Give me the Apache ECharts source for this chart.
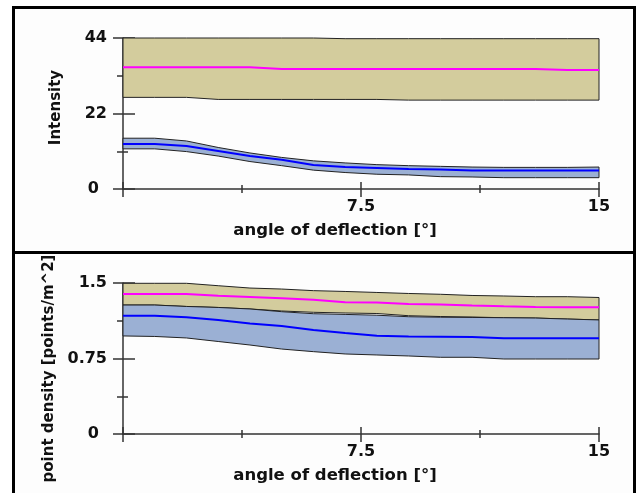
<!DOCTYPE html>
<html>
<head>
<meta charset="utf-8">
<script src="https://cdn.jsdelivr.net/npm/echarts@6/dist/echarts.min.js"></script>
<style>
html,body{margin:0;padding:0;background:#ffffff;}
#chart{width:638px;height:493px;}
</style>
</head>
<body>
<div id="chart"></div>
<script>
// ---- data ----
const angles = [0,1,2,3,4,5,6,7,8,9,10,11,12,13,14,15];

// top panel: Intensity
const intensityTanHigh = [44,44,44,44,44,44,44,43.8,43.8,43.8,43.8,43.8,43.8,43.8,43.8,43.8];
const intensityMagenta = [35.5,35.5,35.5,35.5,35.5,35.0,35.0,35.0,35.0,35.0,35.0,35.0,35.0,35.0,34.7,34.7];
const intensityTanLow  = [26.7,26.7,26.7,26.1,26.1,26.1,26.1,26.1,26.1,25.9,25.9,25.9,25.9,25.9,25.9,25.9];
const intensityBlueHigh = [14.8,14.8,14.0,12.1,10.5,9.2,8.2,7.6,7.1,6.8,6.6,6.4,6.3,6.3,6.3,6.4];
const intensityBlueMid  = [13.1,13.1,12.5,11.1,9.6,8.5,7.0,6.4,6.1,5.8,5.7,5.4,5.4,5.4,5.4,5.4];
const intensityBlueLow  = [11.7,11.7,10.9,9.6,8.0,6.8,5.5,4.8,4.3,4.1,3.6,3.5,3.3,3.3,3.3,3.3];

// bottom panel: point density
const densityTanHigh = [1.497,1.497,1.497,1.473,1.450,1.440,1.424,1.416,1.406,1.396,1.388,1.376,1.371,1.364,1.364,1.356];
const densityMagenta = [1.391,1.391,1.391,1.374,1.361,1.348,1.334,1.308,1.306,1.291,1.286,1.277,1.269,1.262,1.259,1.259];
const densityTanLow  = [1.281,1.281,1.267,1.257,1.242,1.222,1.209,1.202,1.197,1.175,1.167,1.162,1.155,1.152,1.142,1.133];
const densityBlueHigh = [1.281,1.281,1.267,1.257,1.242,1.215,1.195,1.188,1.180,1.165,1.160,1.158,1.155,1.152,1.142,1.133];
const densityBlueMid  = [1.175,1.175,1.159,1.132,1.098,1.073,1.033,1.003,0.977,0.969,0.967,0.964,0.951,0.951,0.951,0.951];
const densityBlueLow  = [0.974,0.969,0.954,0.919,0.884,0.844,0.818,0.795,0.785,0.775,0.762,0.762,0.745,0.745,0.745,0.745];

// axes
const xTitle = 'angle of deflection [°]';
const yTitleTop = 'Intensity';
const yTitleBottom = 'point density [points/m^2]';
const topMax = 44, topInterval = 22;
const bottomMax = 1.5, bottomInterval = 0.75;
const xMax = 15, xInterval = 7.5;

// ---- styling ----
const FONT = 'DejaVu Sans';
const AX = '#333333';
const TAN = '#d3cc9d';
const BLUE_FILL = '#9bb0d4';
const EDGE = '#222222';

function pairs(vals){ return angles.map((a,i)=>[a, vals[i]]); }

function xAxes(g){
  return [{
    gridIndex:g, type:'value', min:0, max:xMax, interval:xInterval,
    axisLine:{show:true, onZero:false, lineStyle:{color:AX, width:1.5}},
    axisTick:{show:true, length:8, lineStyle:{color:AX, width:1.5}},
    minorTick:{show:true, splitNumber:2, length:4, lineStyle:{color:AX, width:1.5}},
    splitLine:{show:false},
    axisLabel:{margin:10, color:'#111', fontFamily:FONT, fontWeight:'bold', fontSize:16,
      formatter:v=> v===0 ? '' : String(v)},
    name:xTitle, nameLocation:'middle', nameGap:33,
    nameTextStyle:{color:'#111', fontFamily:FONT, fontWeight:'bold', fontSize:16.5, padding:[0,52,0,0]}
  },{
    gridIndex:g, type:'value', min:0, max:xMax, interval:xInterval, position:'bottom',
    axisLine:{show:false, onZero:false},
    axisTick:{show:true, inside:true, length:7, lineStyle:{color:AX, width:1.5}},
    minorTick:{show:true, splitNumber:2, length:4, lineStyle:{color:AX, width:1.5}},
    splitLine:{show:false}, axisLabel:{show:false}
  }];
}
function yAxes(g, max, interval, title, pad){
  return [{
    gridIndex:g, type:'value', min:0, max:max, interval:interval,
    axisLine:{show:true, onZero:false, lineStyle:{color:AX, width:1.5}},
    axisTick:{show:true, length:10, lineStyle:{color:AX, width:1.5}},
    minorTick:{show:true, splitNumber:2, length:6, lineStyle:{color:AX, width:1.5}},
    splitLine:{show:false},
    axisLabel:{margin:16, color:'#111', fontFamily:FONT, fontWeight:'bold', fontSize:16,
      formatter:v=> v===0 ? '{z|0}' : String(v),
      rich:{z:{fontFamily:FONT, fontWeight:'bold', fontSize:16, color:'#111', padding:[0,8,0,0]}}},
    name:title, nameLocation:'middle', nameRotate:90, nameGap:59,
    nameTextStyle:{color:'#111', fontFamily:FONT, fontWeight:'bold', fontSize:15, padding:pad}
  },{
    gridIndex:g, type:'value', min:0, max:max, interval:interval, position:'left',
    axisLine:{show:false, onZero:false},
    axisTick:{show:true, inside:true, length:12, lineStyle:{color:AX, width:1.5}},
    minorTick:{show:true, splitNumber:2, length:5, lineStyle:{color:AX, width:1.5}},
    splitLine:{show:false}, axisLabel:{show:false}
  }];
}

// band drawn as one polygon through the axes' own scales (api.coord)
function band(xi, yi, lo, hi, fill){
  return {
    type:'custom', xAxisIndex:xi, yAxisIndex:yi, z:2,
    data: angles.map((a,i)=>[a, lo[i], hi[i]]),
    encode:{x:0, y:[1,2]},
    renderItem:function(params, api){
      if(params.dataIndex !== 0) return null;
      const pts = [];
      for(let i=0;i<angles.length;i++) pts.push(api.coord([angles[i], hi[i]]));
      for(let i=angles.length-1;i>=0;i--) pts.push(api.coord([angles[i], lo[i]]));
      return {type:'polygon', shape:{points:pts},
        style:{fill:fill, stroke:EDGE, lineWidth:1}};
    }
  };
}
function centre(xi, yi, vals, color){
  return {type:'line', xAxisIndex:xi, yAxisIndex:yi, data:pairs(vals),
    showSymbol:false, symbol:'none', lineStyle:{color:color, width:2}, z:4};
}

const chart = echarts.init(document.getElementById('chart'), null, {renderer:'canvas'});
chart.setOption({
  animation:false,
  backgroundColor:'#ffffff',
  graphic:[
    {type:'rect', z:-10, shape:{x:13.5, y:7.5, width:621, height:500},
     style:{fill:'#fdfdfd', stroke:'#000', lineWidth:3}},
    {type:'line', z:-9, shape:{x1:13, y1:252.5, x2:635, y2:252.5},
     style:{stroke:'#000', lineWidth:3}}
  ],
  grid:[
    {left:123, top:38, width:476, height:151},
    {left:123, top:283, width:476, height:151}
  ],
  xAxis:[...xAxes(0), ...xAxes(1)],
  yAxis:[...yAxes(0, topMax, topInterval, yTitleTop, [0,0,0,12]),
         ...yAxes(1, bottomMax, bottomInterval, yTitleBottom, [0,20,0,0])],
  series:[
    band(0,0, intensityTanLow, intensityTanHigh, TAN),
    band(0,0, intensityBlueLow, intensityBlueHigh, BLUE_FILL),
    centre(0,0,intensityMagenta,'#ff00ff'),
    centre(0,0,intensityBlueMid,'#0000ff'),
    band(2,2, densityTanLow, densityTanHigh, TAN),
    band(2,2, densityBlueLow, densityBlueHigh, BLUE_FILL),
    centre(2,2,densityMagenta,'#ff00ff'),
    centre(2,2,densityBlueMid,'#0000ff')
  ]
});
</script>
</body>
</html>
